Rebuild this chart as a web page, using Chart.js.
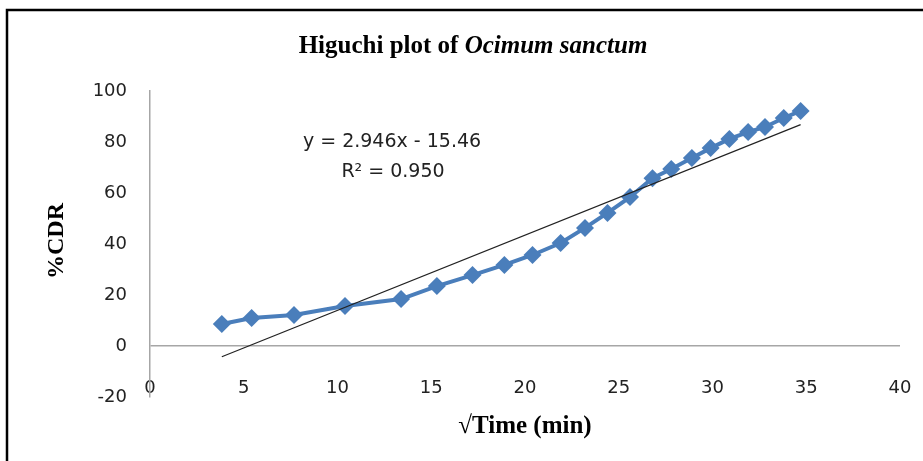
<!DOCTYPE html>
<html>
<head>
<meta charset="utf-8">
<script src="https://cdn.jsdelivr.net/npm/chart.js@4.4.1/dist/chart.umd.min.js"></script>
<style>
  html, body { margin: 0; padding: 0; background: #fff; }
</style>
</head>
<body>
<canvas id="higuchiChart" width="923" height="461"></canvas>
<script>
// values
var sqrtTime = [3.83, 5.42, 7.68, 10.4, 13.39, 15.3, 17.2, 18.9, 20.4, 21.9, 23.2,
                24.4, 25.6, 26.8, 27.8, 28.9, 29.9, 30.9, 31.9, 32.8, 33.8, 34.7];
var cdr = [8.6, 11.0, 12.2, 15.7, 18.4, 23.5, 27.8, 31.8, 35.7, 40.4, 46.3,
           52.2, 58.4, 65.8, 69.4, 73.7, 77.6, 81.2, 83.9, 85.9, 89.4, 92.2];
var trendX = [3.83, 34.7];
var trendY = [-4.2, 86.8];
var xTicks = [0, 5, 10, 15, 20, 25, 30, 35, 40];
var yTicks = [-20, 0, 20, 40, 60, 80, 100];

var titleText = 'Higuchi plot of ';
var titleItalic = 'Ocimum sanctum';
var eqLine1 = 'y = 2.946x - 15.46';
var eqLine2 = 'R\u00B2 = 0.950';
var xTitle = '\u221ATime (min)';
var yTitle = '%CDR';

var points = sqrtTime.map(function(x, i){ return {x: x, y: cdr[i]}; });
var trend = trendX.map(function(x, i){ return {x: x, y: trendY[i]}; });

var tickFont = {family: 'DejaVu Sans', size: 18};

var textPlugin = {
  id: 'texts',
  afterDraw: function(chart){
    var c = chart.ctx;
    c.save();
    // outer frame
    c.strokeStyle = '#000';
    c.lineWidth = 2.5;
    c.strokeRect(7, 10, 1000, 1000);

    // title, mixed upright and italic
    c.fillStyle = '#000';
    c.textBaseline = 'alphabetic';
    c.textAlign = 'left';
    var f1 = 'bold 25px "Liberation Serif"';
    var f2 = 'italic bold 25px "Liberation Serif"';
    c.font = f1; var w1 = c.measureText(titleText).width;
    c.font = f2; var w2 = c.measureText(titleItalic).width;
    var sx = 473 - (w1 + w2) / 2;
    c.font = f1; c.fillText(titleText, sx, 53);
    c.font = f2; c.fillText(titleItalic, sx + w1, 53);

    // trendline equation
    c.textAlign = 'center';
    c.font = '19px "DejaVu Sans"';
    c.fillStyle = '#222';
    c.fillText(eqLine1, 392, 147);
    c.fillText(eqLine2, 393, 177);

    // axis titles
    c.fillStyle = '#000';
    c.font = 'bold 25px "Liberation Serif"';
    c.fillText(xTitle, 525, 433);
    c.translate(63, 241);
    c.rotate(-Math.PI / 2);
    c.font = 'bold 24px "Liberation Serif"';
    c.fillText(yTitle, 0, 0);
    c.restore();
  }
};

var ctx = document.getElementById('higuchiChart').getContext('2d');

var config = {
  type: 'scatter',
  data: {
    datasets: [{
      label: 'CDR',
      data: points,
      showLine: true,
      borderColor: '#4a7ebb',
      backgroundColor: '#4a7ebb',
      borderWidth: 4,
      pointStyle: 'rectRot',
      pointRadius: 9,
      pointHoverRadius: 9,
      pointBorderWidth: 0,
      order: 1
    }, {
      label: 'Linear',
      data: trend,
      showLine: true,
      borderColor: '#222',
      borderWidth: 1.2,
      pointRadius: 0,
      order: 0
    }]
  },
  options: {
    responsive: false,
    animation: false,
    devicePixelRatio: 1,
    layout: {padding: {top: 91, right: 23, bottom: 64, left: 0}},
    plugins: {
      legend: {display: false},
      title: {display: false},
      tooltip: {enabled: false}
    },
    scales: {
      x: {
        type: 'linear',
        position: {y: -12.3},
        min: 0, max: 40,
        afterBuildTicks: function(s){ s.ticks = xTicks.map(function(v){ return {value: v}; }); },
        grid: {display: false, drawTicks: false},
        border: {display: false},
        ticks: {font: tickFont, color: '#222', padding: 0, maxRotation: 0, autoSkip: false}
      },
      y: {
        min: -20, max: 100,
        afterBuildTicks: function(s){ s.ticks = yTicks.map(function(v){ return {value: v}; }); },
        afterFit: function(s){ s.width = 150; },
        grid: {
          drawTicks: false,
          color: function(c){ return c.tick && c.tick.value === 0 ? '#a6a6a6' : 'rgba(0,0,0,0)'; },
          lineWidth: 1.5
        },
        border: {display: true, color: '#a6a6a6', width: 1.5},
        ticks: {font: tickFont, color: '#222', padding: 23}
      }
    }
  },
  plugins: [textPlugin]
};

var higuchiChart = new Chart(ctx, config);
</script>
</body>
</html>
